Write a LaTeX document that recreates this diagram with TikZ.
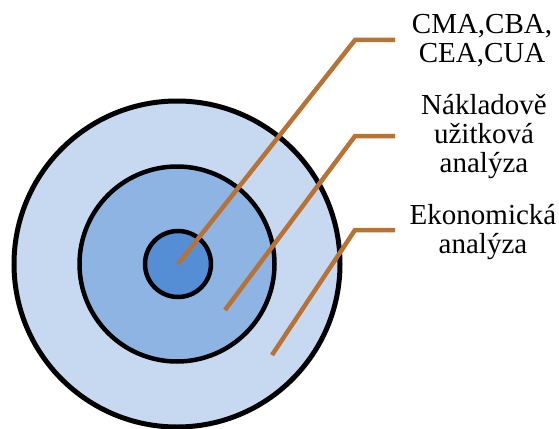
\documentclass[tikz,border=0pt]{standalone}
\usepackage{fontspec}
\setmainfont{Liberation Serif}
\usetikzlibrary{positioning}

\definecolor{ringouter}{RGB}{198,217,241}
\definecolor{ringmid}{RGB}{142,180,227}
\definecolor{ringinner}{RGB}{85,142,213}
\definecolor{leadbrown}{RGB}{184,114,52}

\begin{document}
\begin{tikzpicture}[
        x=1pt, y=-1pt,
        ring/.style={circle, draw=black, line width=5pt, inner sep=0pt},
        leader/.style={draw=leadbrown, line width=4.5pt},
        lbl/.style={font=\fontsize{29}{29}\selectfont, align=center, inner sep=0pt}
    ]
    \useasboundingbox (0,0) rectangle (559,428);

    % Concentric rings
    \node[ring, fill=ringouter, minimum size=326pt] (outer) at (177,264) {};
    \node[ring, fill=ringmid, line width=4.5pt, minimum size=195pt] (mid) at (177,264) {};
    \node[ring, fill=ringinner, line width=4.5pt, minimum size=66pt] (inner) at (178,264) {};

    % Labels
    \node[lbl] (cma) at (482,41) {CMA,CBA,\\CEA,CUA};
    \node[lbl] (cua) at (484,137) {Nákladově\\užitková\\analýza};
    \node[lbl] (eko) at (483,232) {Ekonomická\\analýza};

    % Leader lines
    \coordinate (s1) at (178,264);
    \coordinate (s2) at (225,310);
    \coordinate (s3) at (272,355);
    \draw[leader] (s1) -- (355,40) -- (395,40);
    \draw[leader] (s2) -- (355,136) -- (395,136);
    \draw[leader] (s3) -- (355,230) -- (395,230);
\end{tikzpicture}
\end{document}
